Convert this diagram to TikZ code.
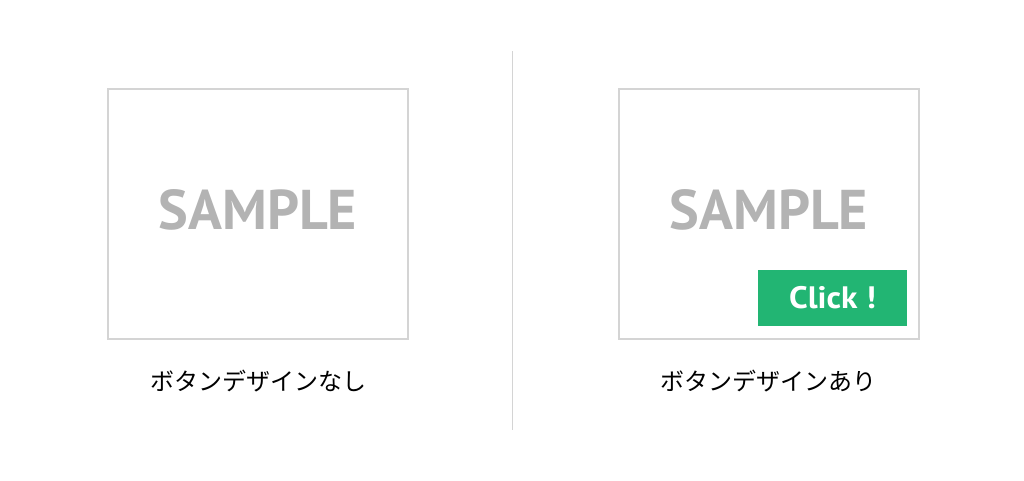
\documentclass[tikz,border=0pt]{standalone}
\usepackage{fontspec}
\setsansfont{PT Sans}
\newfontfamily\cjk{Noto Sans CJK JP}
\definecolor{framegray}{HTML}{D4D4D4}
\definecolor{samplegray}{HTML}{B3B3B3}
\definecolor{btngreen}{HTML}{22B573}
\begin{document}
\begin{tikzpicture}[x=1pt,y=-1pt,
  frame/.style={draw=framegray,line width=1.3pt,fill=white},
  sampletext/.style={text=samplegray,font=\sffamily\bfseries\fontsize{56}{56}\selectfont,inner sep=0pt,xscale=1.0},
  caption/.style={font=\cjk\fontsize{24}{24}\selectfont,inner sep=0pt},
  btn/.style={fill=btngreen,draw=none,minimum width=149pt,minimum height=56pt,inner sep=0pt,text=white}]
\useasboundingbox (0,0) rectangle (1024,480);
\fill[white] (0,0) rectangle (1024,480);
\draw[frame] (108,89) rectangle (408,339);
\draw[frame] (619,89) rectangle (919,339);
\draw[framegray,line width=1pt] (512,51) -- (512,430);
\node[sampletext] (s1) at (258,210) {SAMPLE};
\node[sampletext] (s2) at (769,210) {SAMPLE};
\node[btn] (b) at (832.5,298) {};
\node[text=white,font=\sffamily\bfseries\fontsize{31}{31}\selectfont,inner sep=0pt,xscale=1.08] (bl) at (b.center) {Click !};
\node[caption] (c1) at (258,381) {ボタンデザインなし};
\node[caption] (c2) at (768,381) {ボタンデザインあり};
\end{tikzpicture}
\end{document}
